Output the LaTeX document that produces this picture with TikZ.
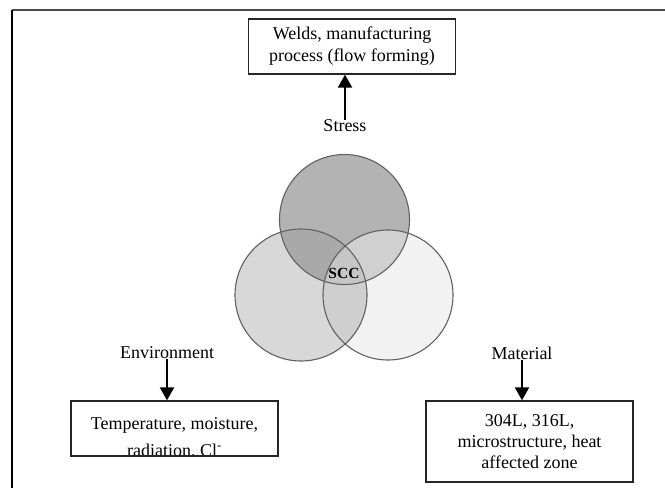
\documentclass[tikz,border=0pt]{standalone}
\usepackage{fontspec}
\setmainfont{Liberation Serif}
\usetikzlibrary{arrows.meta}
\definecolor{cT}{HTML}{B3B3B3}
\definecolor{cL}{HTML}{D8D8D8}
\definecolor{cR}{HTML}{F2F2F2}
\definecolor{cTL}{HTML}{A9A9A9}
\definecolor{cTR}{HTML}{D0D0D0}
\definecolor{cLR}{HTML}{CFCFCF}
\definecolor{cALL}{HTML}{C6C6C6}
\begin{document}
\begin{tikzpicture}[x=1pt,y=-1pt,
  box/.style={draw=black!85, line width=1.3pt, minimum width=207pt, align=center, inner sep=0pt},
  txt/.style={align=center, inner sep=0pt, font=\fontsize{18}{22}\selectfont},
  lbl/.style={inner sep=0pt, font=\fontsize{18}{20}\selectfont},
  arr/.style={line width=2pt, -{Triangle[width=14pt,length=13pt]}},
  ring/.style={draw=black!62, line width=1.1pt}]
\useasboundingbox (0,0) rectangle (665,488);
% frame
\draw[line width=2pt, black!70] (12,9.5) -- (665,9.5);
\draw[line width=1.5pt] (12,9.5) -- (12,488);
% circles
\coordinate (ct) at (344.5,219.5);
\coordinate (cl) at (301,295);
\coordinate (cr) at (388,295);
\def\rt{65pt}\def\rl{66pt}\def\rr{65pt}
\fill[cL] (cl) circle[radius=\rl];
\fill[cT] (ct) circle[radius=\rt];
\fill[cR] (cr) circle[radius=\rr];
\begin{scope}\clip (cl) circle[radius=\rl]; \fill[cTL] (ct) circle[radius=\rt];\end{scope}
\begin{scope}\clip (cr) circle[radius=\rr]; \fill[cTR] (ct) circle[radius=\rt];\end{scope}
\begin{scope}\clip (cl) circle[radius=\rl]; \fill[cLR] (cr) circle[radius=\rr];\end{scope}
\begin{scope}\clip (cl) circle[radius=\rl]; \clip (cr) circle[radius=\rr]; \fill[cALL] (ct) circle[radius=\rt];\end{scope}
\draw[ring] (cl) circle[radius=\rl];
\draw[ring] (ct) circle[radius=\rt];
\draw[ring] (cr) circle[radius=\rr];
\node[inner sep=0pt, font=\bfseries\fontsize{15.5}{15.5}\selectfont] (scc) at (344,273) {SCC};
% top
\node[box, minimum height=55pt, txt] (stressbox) at (352,46.5) {Welds, manufacturing\\process (flow forming)};
\node[lbl] (stress) at (345,126) {Stress};
\draw[arr] (stress.north) -- (stress.north |- stressbox.south);
% environment
\begin{scope}
\path (71,401) rectangle (278,456);
\clip (71,401) rectangle (278,456);
\node[txt, font=\fontsize{18}{27}\selectfont] (envtext) at (174.5,438) {Temperature, moisture,\\radiation, Cl\textsuperscript{-}};
\end{scope}
\node[box, minimum height=55pt] (envbox) at (174.5,428.5) {};
\node[lbl] (env) at (167,353) {Environment};
\draw[arr] (env.south) -- (env.south |- envbox.north);
% material
\node[box, minimum height=81pt, txt, font=\fontsize{18}{21}\selectfont] (matbox) at (529.5,441.5) {304L, 316L,\\microstructure, heat\\affected zone};
\node[lbl] (mat) at (522,353) {Material};
\draw[arr] (mat.south) -- (mat.south |- matbox.north);
\end{tikzpicture}
\end{document}
